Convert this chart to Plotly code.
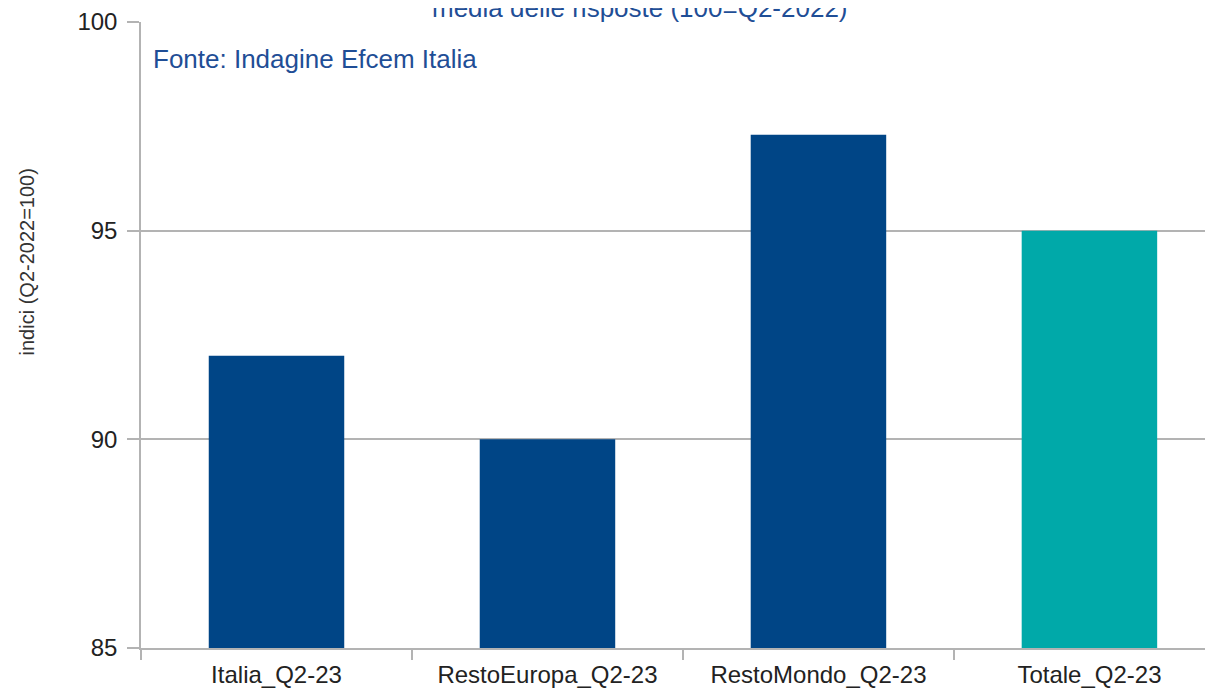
import plotly.graph_objects as go

categories = ["Italia_Q2-23", "RestoEuropa_Q2-23", "RestoMondo_Q2-23", "Totale_Q2-23"]
values = [92.0, 90.0, 97.3, 95.0]
bar_colors = ["#004586", "#004586", "#004586", "#00a9a9"]
y_ticks = [85, 90, 95, 100]

# page body adds an 8px offset; compensate
OFF = 8
W, H = 1213 - OFF, 695 - OFF
L, T, B, R = 141 - OFF, 18 - OFF, 47, 0
pw = W - L - R
ph = H - T - B

def px_x(x):
    return (x - OFF - L) / pw

def px_y(y):
    return (H - B - (y - OFF)) / ph

fig = go.Figure()
fig.add_trace(go.Bar(
    x=categories, y=values, marker=dict(color=bar_colors, line=dict(width=0)),
    width=0.5, hoverinfo="x+y",
))

grid = "#b3b3b3"
fig.update_layout(
    width=W, height=H,
    margin=dict(l=L, r=R, t=T, b=B, pad=0),
    plot_bgcolor="white", paper_bgcolor="white",
    showlegend=False,
    font=dict(family="Liberation Sans", color="#222222"),
    xaxis=dict(
        type="category", range=[-0.5, 3.456],
        tickson="boundaries", ticks="outside", ticklen=10, tickcolor=grid, tickwidth=1.5,
        showline=True, linecolor=grid, linewidth=1.5,
        showgrid=False, tickfont=dict(size=24, color="#222222"),
        ticklabelstandoff=4,
    ),
    yaxis=dict(
        range=[85, 100], tickvals=y_ticks, ticks="outside", ticklen=12,
        tickcolor=grid, tickwidth=1.5,
        showline=True, linecolor=grid, linewidth=1.5,
        showgrid=True, gridcolor=grid, gridwidth=1.5, zeroline=False,
        tickfont=dict(size=24, color="#222222"),
        ticklabelstandoff=5, ticklabeloverflow="allow",
    ),
    annotations=[
        dict(text="Fonte: Indagine Efcem Italia", xref="paper", yref="paper",
             x=px_x(151), y=px_y(55), xanchor="left", yanchor="middle",
             showarrow=False, font=dict(size=26, color="#1f4e96")),
        dict(text="media delle risposte (100=Q2-2022)", xref="paper", yref="paper",
             x=px_x(640), y=px_y(21), xanchor="center", yanchor="bottom",
             showarrow=False, font=dict(size=26, color="#1f4e96")),
        dict(text="indici (Q2-2022=100)", xref="paper", yref="paper",
             x=px_x(27), y=px_y(260), xanchor="center", yanchor="middle", textangle=-90,
             showarrow=False, font=dict(size=20, color="#333333")),
    ],
)

fig.write_html("out.html")
